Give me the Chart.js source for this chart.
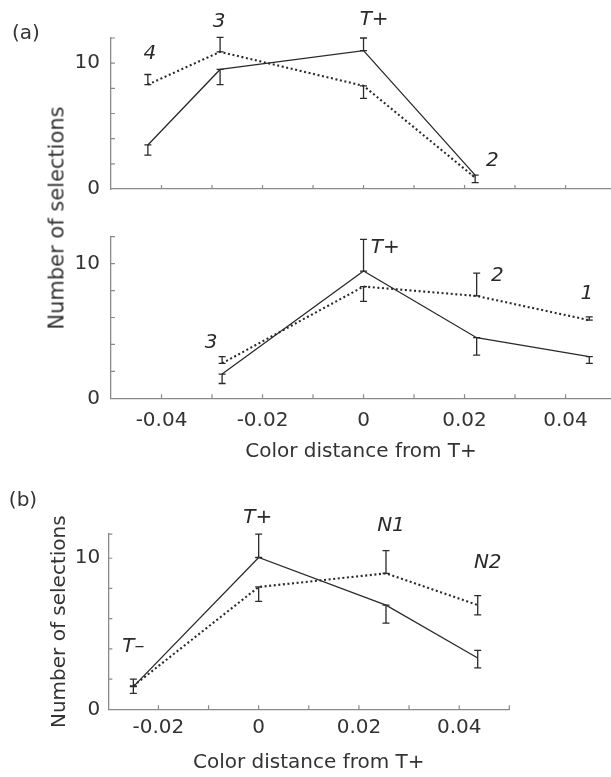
<!DOCTYPE html>
<html><head><meta charset="utf-8">
<script src="https://cdn.jsdelivr.net/npm/chart.js@4.4.1/dist/chart.umd.min.js"></script>
<style>
html,body{margin:0;padding:0;background:#fff;}
body{width:611px;height:777px;position:relative;overflow:hidden;font-family:'DejaVu Sans';color:#333;}
canvas{position:absolute;left:0;}
.lbl{position:absolute;white-space:nowrap;transform:translate(-50%,-50%);line-height:1;color:#333;}
</style></head><body>
<canvas id="c1" width="611" height="212" style="top:0px"></canvas>
<canvas id="c2" width="611" height="253" style="top:212px"></canvas>
<canvas id="c3" width="611" height="312" style="top:465px"></canvas>
<div class="lbl" style="left:26px;top:32px;font-size:20px">(a)</div>
<div class="lbl" style="left:23px;top:499px;font-size:20px">(b)</div>
<div class="lbl" style="left:57px;top:218px;font-size:21px;transform:translate(-50%,-50%) rotate(-90deg)">Number of selections</div>
<script>
// ---------- data ----------
// Panel (a), upper
const aTopX = [-0.0427, -0.0284, 0, 0.0221];
const aTopNames = ['4', '3', 'T+', '2'];
const aTopSolid = [3.5, 9.5, 11.0, 1.1];
const aTopSolidErrUp = [0, 0, 1.0, 0];
const aTopSolidErrDown = [0.8, 1.2, 0, 0.6];
const aTopDotted = [8.3, 10.9, 8.2, 0.9];
const aTopDottedErrUp = [0.8, 1.15, 0, 0];
const aTopDottedErrDown = [0, 0, 1.0, 0];

// Panel (a), lower
const aBotX = [-0.028, 0, 0.0224, 0.0447];
const aBotNames = ['3', 'T+', '2', '1'];
const aBotSolid = [1.8, 9.45, 4.5, 3.1];
const aBotSolidErrUp = [0, 2.35, 0, 0];
const aBotSolidErrDown = [0.7, 0, 1.3, 0.5];
const aBotDotted = [2.6, 8.3, 7.6, 5.8];
const aBotDottedErrUp = [0.5, 0, 1.7, 0.25];
const aBotDottedErrDown = [0, 1.1, 0, 0];

// Panel (b)
const bX = [-0.025, 0, 0.0254, 0.0437];
const bNames = ['T\u2013', 'T+', 'N1', 'N2'];
const bSolid = [1.5, 10.05, 6.9, 3.4];
const bSolidErrUp = [0, 1.55, 0, 0.5];
const bSolidErrDown = [0.45, 0, 1.2, 0.66];
const bDotted = [1.55, 8.1, 9.0, 6.9];
const bDottedErrUp = [0.45, 0, 1.5, 0.62];
const bDottedErrDown = [0, 0.95, 0, 0.65];

const yTickLabels = [0, 10];
const xTitle = 'Color distance from T+';
const yTitle = 'Number of selections';

// ---------- styling ----------
Chart.defaults.font.family = "'DejaVu Sans'";
Chart.defaults.font.size = 20;
Chart.defaults.color = '#333';
const INK = '#2a2a2a';
const AXIS = '#8a8a8a';

function pts(xs, ys) { return xs.map((x, i) => ({x: x, y: ys[i]})); }

function solidSet(xs, ys, up, down) {
  return {data: pts(xs, ys), borderColor: INK, borderWidth: 1.3, pointRadius: 0,
          tension: 0, errUp: up, errDown: down};
}
function dottedSet(xs, ys, up, down) {
  return {data: pts(xs, ys), borderColor: INK, borderWidth: 2.1, borderDash: [2, 2.6],
          pointRadius: 0, tension: 0, errUp: up, errDown: down};
}

const xTickCb = function (v) {
  const k = Math.round(v * 100);
  if (k % 2 !== 0) return '';
  return k === 0 ? '0' : (k / 100).toFixed(2);
};
const yTickCb = function (v) { return yTickLabels.includes(v) ? String(v) : ''; };

const errorBars = {
  id: 'errorBars',
  afterDatasetsDraw(chart) {
    const ctx = chart.ctx, ys = chart.scales.y;
    ctx.save();
    ctx.strokeStyle = INK; ctx.lineWidth = 1.3; ctx.setLineDash([]);
    chart.data.datasets.forEach((ds, i) => {
      const meta = chart.getDatasetMeta(i);
      ds.data.forEach((p, j) => {
        const up = ds.errUp[j], dn = ds.errDown[j];
        if (!up && !dn) return;
        const x = meta.data[j].x;
        const y1 = ys.getPixelForValue(p.y + up), y2 = ys.getPixelForValue(p.y - dn);
        const w = 3.5;
        ctx.beginPath();
        ctx.moveTo(x, y1); ctx.lineTo(x, y2);
        ctx.moveTo(x - w, y1); ctx.lineTo(x + w, y1);
        ctx.moveTo(x - w, y2); ctx.lineTo(x + w, y2);
        ctx.stroke();
      });
    });
    ctx.restore();
  }
};

const innerTicks = {
  id: 'innerTicks',
  beforeDatasetsDraw(chart) {
    const ctx = chart.ctx, a = chart.chartArea, xs = chart.scales.x, ys = chart.scales.y;
    ctx.save();
    ctx.strokeStyle = AXIS; ctx.lineWidth = 1.2;
    ctx.beginPath();
    xs.ticks.forEach(t => {
      const px = xs.getPixelForValue(t.value);
      if (px < a.left + 2) return;
      ctx.moveTo(px, a.bottom); ctx.lineTo(px, a.bottom - 4);
    });
    ys.ticks.forEach(t => {
      const py = ys.getPixelForValue(t.value);
      if (py > a.bottom - 2) return;
      ctx.moveTo(a.left, py); ctx.lineTo(a.left + 4, py);
    });
    ctx.moveTo(a.left, a.top); ctx.lineTo(a.left + 4, a.top);
    ctx.stroke();
    ctx.restore();
  }
};

function nameLabels(items) {
  return {
    id: 'nameLabels',
    afterDatasetsDraw(chart) {
      const ctx = chart.ctx, xs = chart.scales.x, ys = chart.scales.y;
      ctx.save();
      ctx.font = "italic 20px 'DejaVu Sans'";
      ctx.fillStyle = '#2a2a2a';
      ctx.textAlign = 'center'; ctx.textBaseline = 'middle';
      items.forEach(it => {
        ctx.fillText(it.text, xs.getPixelForValue(it.x), ys.getPixelForValue(it.y));
      });
      ctx.restore();
    }
  };
}

function makeChart(id, o) {
  return new Chart(document.getElementById(id), {
    type: 'line',
    data: {datasets: [solidSet(o.x, o.solid, o.sUp, o.sDn), dottedSet(o.x, o.dotted, o.dUp, o.dDn)]},
    options: {
      responsive: false, animation: false,
      layout: {padding: o.pad},
      plugins: {legend: {display: false}, tooltip: {enabled: false}},
      scales: {
        x: {
          type: 'linear', min: o.xmin, max: o.xmax,
          grid: {display: true, drawOnChartArea: false, drawTicks: false},
          border: {display: true, color: AXIS, width: 1.3},
          ticks: {stepSize: 0.01, includeBounds: false, autoSkip: false, maxRotation: 0,
                  padding: o.xTickPad, callback: o.xLabels ? xTickCb : () => '', color: '#333'},
          title: {display: !!o.xTitle, text: xTitle, color: '#333', font: {size: 20},
                  padding: {top: 0, bottom: o.xTitlePad}},
          afterFit(s) { s.height = o.xH; }
        },
        y: {
          min: 0, max: o.ymax,
          grid: {display: true, drawOnChartArea: false, drawTicks: false},
          border: {display: true, color: AXIS, width: 1.3},
          ticks: {stepSize: 2, includeBounds: false, autoSkip: false, padding: o.yTickPad,
                  callback: yTickCb, color: '#333'},
          title: {display: !!o.yTitle, text: yTitle, color: '#333', font: {size: 20},
                  padding: {top: 48, bottom: 0}},
          afterFit(s) { s.width = o.yW; }
        }
      }
    },
    plugins: [innerTicks, errorBars, nameLabels(o.labels)]
  });
}

makeChart('c1', {
  x: aTopX, solid: aTopSolid, sUp: aTopSolidErrUp, sDn: aTopSolidErrDown,
  dotted: aTopDotted, dUp: aTopDottedErrUp, dDn: aTopDottedErrDown,
  xmin: -0.05, xmax: 0.049, ymax: 12, pad: {top: 38, left: 0, right: 0, bottom: 0},
  xH: 12, yW: 111, xTickPad: 10, yTickPad: 11, xLabels: false, xTitle: false, yTitle: false,
  labels: [
    {text: aTopNames[0], x: -0.0423, y: 10.74},
    {text: aTopNames[1], x: -0.0286, y: 13.26},
    {text: aTopNames[2], x: 0.0021, y: 13.46},
    {text: aTopNames[3], x: 0.0255, y: 2.22}
  ]
});

makeChart('c2', {
  x: aBotX, solid: aBotSolid, sUp: aBotSolidErrUp, sDn: aBotSolidErrDown,
  dotted: aBotDotted, dUp: aBotDottedErrUp, dDn: aBotDottedErrDown,
  xmin: -0.05, xmax: 0.049, ymax: 12, pad: {top: 24.7, left: 0, right: 0, bottom: 0},
  xH: 66.7, yW: 111, xTickPad: 10, yTickPad: 11, xLabels: true, xTitle: true, xTitlePad: 1, yTitle: false,
  labels: [
    {text: aBotNames[0], x: -0.0302, y: 4.13},
    {text: aBotNames[1], x: 0.0043, y: 11.17},
    {text: aBotNames[2], x: 0.0265, y: 9.07},
    {text: aBotNames[3], x: 0.0442, y: 7.78}
  ]
});

makeChart('c3', {
  x: bX, solid: bSolid, sUp: bSolidErrUp, sDn: bSolidErrDown,
  dotted: bDotted, dUp: bDottedErrUp, dDn: bDottedErrDown,
  xmin: -0.03, xmax: 0.05, ymax: 11.6, pad: {top: 69.1, left: 0, right: 101.7, bottom: 0},
  xH: 67.7, yW: 108.3, xTickPad: 6, yTickPad: 8, xLabels: true, xTitle: true, xTitlePad: 2, yTitle: true,
  labels: [
    {text: bNames[0], x: -0.025, y: 4.15},
    {text: bNames[1], x: -0.0002, y: 12.65},
    {text: bNames[2], x: 0.0264, y: 12.15},
    {text: bNames[3], x: 0.0457, y: 9.72}
  ]
});
</script>
</body></html>
